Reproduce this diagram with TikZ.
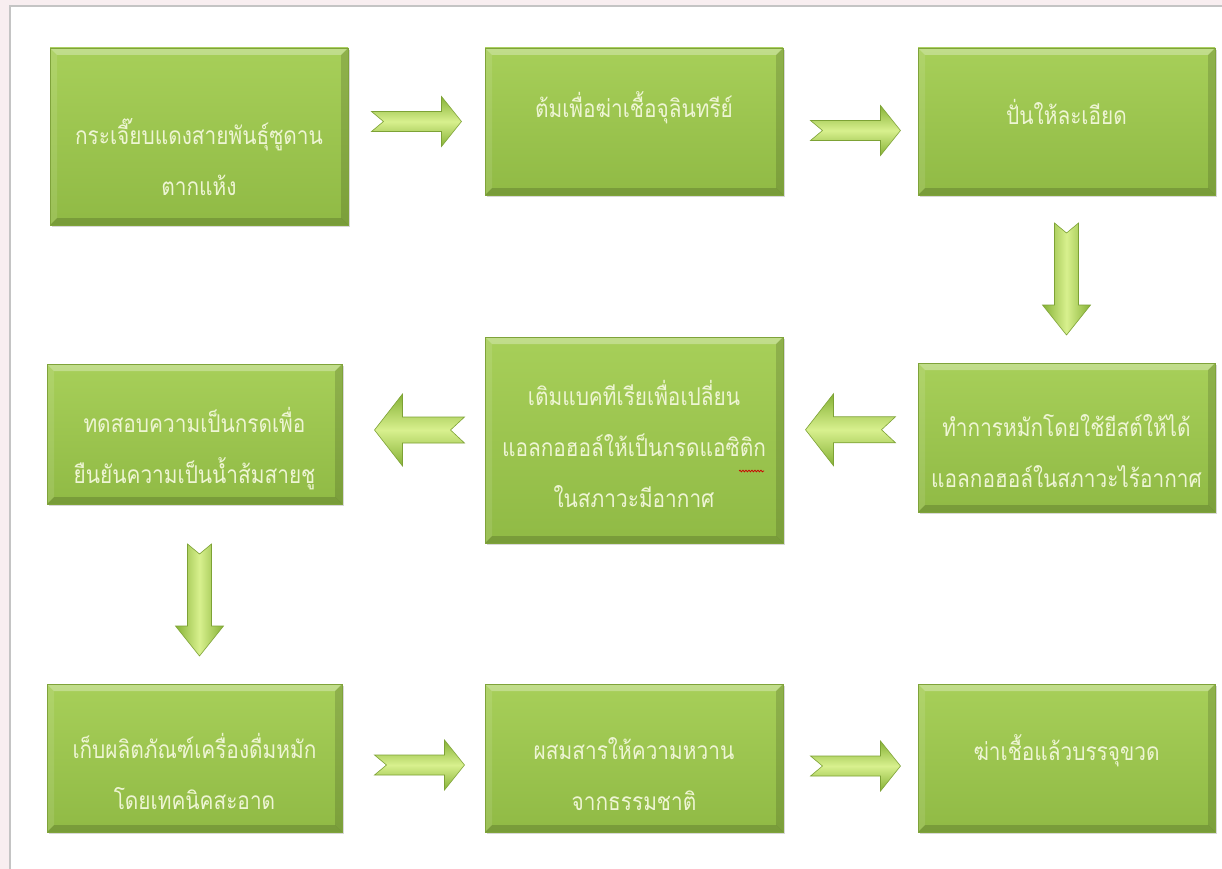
\documentclass[tikz,border=0pt]{standalone}
\usepackage{fontspec}
\newfontfamily\thaifont[Script=Thai,FakeStretch=0.85]{Loma}
\usetikzlibrary{calc,shadows,decorations.pathmorphing}
\definecolor{pagebg}{HTML}{F8EEF0}
\definecolor{panelline}{HTML}{C4C4C4}
\definecolor{boxtop}{HTML}{A7CF59}
\definecolor{boxbot}{HTML}{90BA45}
\definecolor{boxline}{HTML}{7FA33A}
\definecolor{txtc}{HTML}{EEF5D4}
\definecolor{arrdark}{HTML}{86B236}
\definecolor{arrlight}{HTML}{D8F08E}
\definecolor{arrline}{HTML}{7DA235}
\tikzset{
  stepbox/.style={rectangle, inner sep=0pt, top color=boxtop, bottom color=boxbot,
    draw=boxline, line width=0.8pt,
    drop shadow={opacity=0.3, shadow xshift=2pt, shadow yshift=-2pt},
    path picture={
      \fill[white,opacity=0.30] (path picture bounding box.north west) -- (path picture bounding box.north east)
        -- ([shift={(-7pt,-7pt)}]path picture bounding box.north east) -- ([shift={(7pt,-7pt)}]path picture bounding box.north west) -- cycle;
      \fill[white,opacity=0.10] (path picture bounding box.north west) -- (path picture bounding box.south west)
        -- ([shift={(7pt,7pt)}]path picture bounding box.south west) -- ([shift={(7pt,-7pt)}]path picture bounding box.north west) -- cycle;
      \fill[black,opacity=0.14] (path picture bounding box.north east) -- (path picture bounding box.south east)
        -- ([shift={(-7pt,7pt)}]path picture bounding box.south east) -- ([shift={(-7pt,-7pt)}]path picture bounding box.north east) -- cycle;
      \fill[black,opacity=0.16] (path picture bounding box.south west) -- (path picture bounding box.south east)
        -- ([shift={(-7pt,7pt)}]path picture bounding box.south east) -- ([shift={(7pt,7pt)}]path picture bounding box.south west) -- cycle;
    }},
  steptext/.style={text=txtc, align=center, inner sep=0pt,
    font=\thaifont\fontsize{24.5}{51}\selectfont},
  harrow/.style={top color=arrdark, bottom color=arrdark, middle color=arrlight, draw=arrline, line width=0.6pt},
  varrow/.style={left color=arrdark, right color=arrdark, middle color=arrlight, draw=arrline, line width=0.6pt},
}
% #1 centre, #2 direction (1 right, -1 left), #3 length, #4 shaft half, #5 head half, #6 head length, #7 notch
\newcommand\HArrow[7]{%
  \begin{scope}[shift={#1}, xscale=#2]
    \shade[harrow] (-#3/2,#4) -- (#3/2-#6,#4) -- (#3/2-#6,#5) -- (#3/2,0) -- (#3/2-#6,-#5)
      -- (#3/2-#6,-#4) -- (-#3/2,-#4) -- (-#3/2+#7,0) -- cycle;
  \end{scope}}
\newcommand\VArrow[6]{%
  \begin{scope}[shift={#1}]
    \shade[varrow] (-#3,#2/2) -- (-#3,-#2/2+#5) -- (-#4,-#2/2+#5) -- (0,-#2/2) -- (#4,-#2/2+#5)
      -- (#3,-#2/2+#5) -- (#3,#2/2) -- (0,#2/2-#6) -- cycle;
  \end{scope}}
\begin{document}
\begin{tikzpicture}[x=1pt,y=1pt]
\useasboundingbox (0,0) rectangle (1222,-869);
\fill[pagebg] (0,0) rectangle (1222,-869);
\fill[white] (10,-6) rectangle (1222,-869);
\draw[panelline, line width=1.2pt] (10,-869) -- (10,-6) -- (1222,-6);

% boxes
\node[stepbox, minimum width=298, minimum height=177] (b1) at (199,-136.5) {};
\node[stepbox, minimum width=298, minimum height=147] (b2) at (634,-121.5) {};
\node[stepbox, minimum width=297, minimum height=147] (b3) at (1066.5,-121.5) {};
\node[stepbox, minimum width=295, minimum height=140] (b4) at (194.5,-434) {};
\node[stepbox, minimum width=298, minimum height=206] (b5) at (634,-440) {};
\node[stepbox, minimum width=297, minimum height=149] (b6) at (1066.5,-437.5) {};
\node[stepbox, minimum width=295, minimum height=148] (b7) at (194.5,-758) {};
\node[stepbox, minimum width=298, minimum height=148] (b8) at (634,-758) {};
\node[stepbox, minimum width=297, minimum height=148] (b9) at (1066.5,-758) {};

% texts
\node[steptext] (t1) at (199,-157) {กระเจี๊ยบแดงสายพันธุ์ซูดาน\\ตากแห้ง};
\node[steptext] (t2) at (634,-108) {ต้มเพื่อฆ่าเชื้อจุลินทรีย์};
\node[steptext] (t3) at (1066.5,-112) {ปั่นให้ละเอียด};
\node[steptext] (t4) at (194.5,-449) {ทดสอบความเป็นกรดเพื่อ\\ยืนยันความเป็นน้ำส้มสายชู};
\node[steptext] (t5) at (634,-444) {เติมแบคทีเรียเพื่อเปลี่ยน\\แอลกอฮอล์ให้เป็นกรดแอซิติก\\ในสภาวะมีอากาศ};
\node[steptext] (t6) at (1066.5,-451) {ทำการหมักโดยใช้ยีสต์ให้ได้\\แอลกอฮอล์ในสภาวะไร้อากาศ};
\node[steptext] (t7) at (194.5,-771) {เก็บผลิตภัณฑ์เครื่องดื่มหมัก\\โดยเทคนิคสะอาด};
\node[steptext] (t8) at (634,-774) {ผสมสารให้ความหวาน\\จากธรรมชาติ};
\node[steptext] (t9) at (1066.5,-751) {ฆ่าเชื้อแล้วบรรจุขวด};

% spell-check squiggle
\coordinate (sq1) at (739,-471);
\coordinate (sq2) at (764,-471);
\draw[red!80!black, line width=0.7pt, decorate, decoration={snake, amplitude=0.9pt, segment length=3pt}] (sq1) -- (sq2);

% connectors (block arrows)
\HArrow{($(b1.east |- b2.center)!.5!(b2.west)$)}{1}{90}{10}{25}{20}{12}
\HArrow{($(b2.east)!.5!(b3.west)+(5,-9)$)}{1}{90}{10}{25}{20}{12}
\VArrow{($(b3.south)!.5!(b6.north)$)}{112}{12}{24}{30}{10}
\HArrow{($(b6.west)!.5!(b5.east)+(0,9)$)}{-1}{90}{13}{36}{28}{14}
\HArrow{($(b5.west |- b4.center)!.5!(b4.east)+(6,4)$)}{-1}{90}{13}{36}{28}{14}
\VArrow{($(b4.south)!.5!(b7.north)+(5,-6)$)}{112}{12}{24}{30}{10}
\HArrow{($(b7.east)!.5!(b8.west)+(6,-7)$)}{1}{90}{10}{25}{20}{12}
\HArrow{($(b8.east)!.5!(b9.west)+(5,-8)$)}{1}{90}{10}{25}{20}{12}
\end{tikzpicture}
\end{document}
